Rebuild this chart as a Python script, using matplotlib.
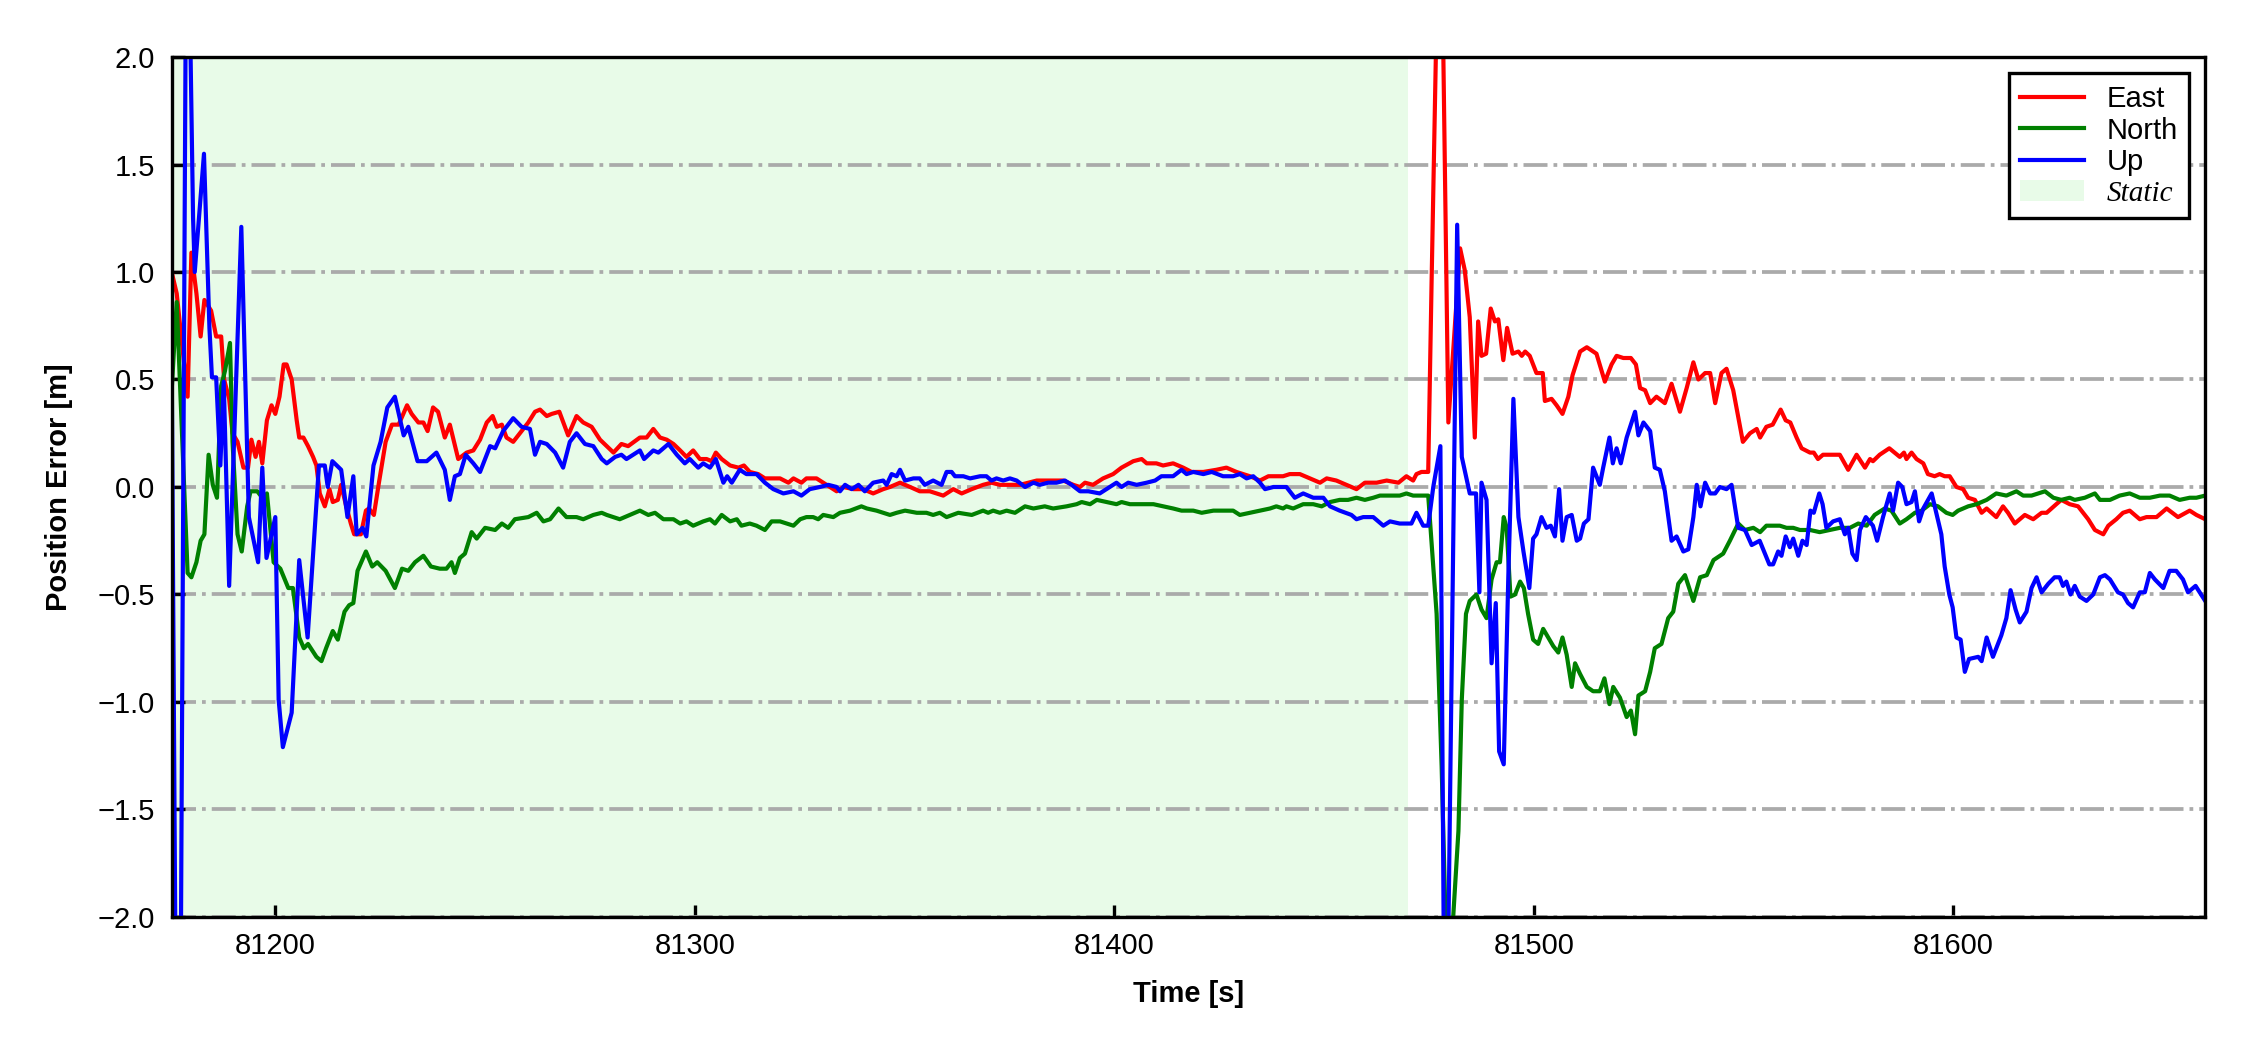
import numpy as np
import matplotlib
matplotlib.use("Agg")
import matplotlib.pyplot as plt

plt.rcParams['font.family'] = ['Liberation Sans', 'DejaVu Sans']
plt.rcParams['font.size'] = 7

# ---- data ----
t_east = [81175.3, 81176.5, 81179.1, 81180.0, 81181.2, 81182.2, 81183.1, 81184.7, 81185.9, 81187.1,
          81187.8, 81189.0, 81189.8, 81191.0, 81192.4, 81193.5, 81194.3, 81195.3, 81196.1, 81196.9,
          81198.0, 81199.1, 81200.0, 81201.0, 81202.0, 81202.7, 81203.9, 81205.1, 81205.7, 81206.7,
          81207.8, 81209.0, 81209.8, 81210.6, 81211.8, 81212.9, 81213.7, 81214.9, 81215.7, 81216.9,
          81218.0, 81218.8, 81220.4, 81221.6, 81222.3, 81223.5, 81224.7, 81226.3, 81227.8, 81229.4,
          81231.4, 81232.5, 81234.1, 81235.3, 81236.3, 81237.6, 81238.8, 81240.4, 81241.6, 81243.6,
          81245.6, 81247.2, 81248.8, 81250.4, 81251.8, 81252.8, 81254.0, 81255.1, 81256.7, 81258.7,
          81260.3, 81261.9, 81263.1, 81264.7, 81265.9, 81267.7, 81269.8, 81271.8, 81273.4, 81275.4,
          81277.4, 81279.0, 81280.6, 81282.5, 81284.1, 81286.9, 81288.5, 81290.1, 81291.7, 81293.3,
          81294.9, 81296.5, 81298.0, 81299.6, 81301.2, 81302.8, 81304.0, 81305.0, 81306.4, 81308.4,
          81310.4, 81311.7, 81313.1, 81315.1, 81316.7, 81318.7, 81320.3, 81322.3, 81323.5, 81325.4,
          81326.6, 81329.0, 81330.6, 81332.2, 81333.8, 81335.4, 81337.8, 81340.1, 81342.5, 81344.9,
          81346.5, 81348.9, 81351.3, 81353.6, 81356.0, 81359.2, 81361.6, 81363.6, 81366.0, 81368.7,
          81370.7, 81372.7, 81375.1, 81377.5, 81381.5, 81383.8, 81387.8, 81390.2, 81391.8, 81393.0,
          81394.9, 81397.3, 81399.7, 81401.7, 81404.5, 81406.5, 81407.7, 81410.0, 81411.6, 81414.0,
          81416.4, 81418.4, 81421.2, 81424.3, 81426.7, 81429.1, 81432.3, 81434.7, 81436.7, 81440.2,
          81441.8, 81444.2, 81446.6, 81449.0, 81450.6, 81452.9, 81455.3, 81457.7, 81459.7, 81462.5,
          81464.9, 81467.7, 81469.6, 81471.2, 81472.0, 81473.2, 81474.8, 81475.6, 81477.0, 81478.2,
          81479.6, 81482.4, 81483.5, 81484.7, 81485.9, 81486.7, 81487.5, 81488.6, 81489.7, 81490.7,
          81491.5, 81492.7, 81493.6, 81494.9, 81496.3, 81497.1, 81497.9, 81499.0, 81500.6, 81502.1,
          81502.6, 81504.2, 81505.4, 81506.8, 81508.2, 81509.2, 81511.0, 81512.6, 81514.9, 81516.9,
          81518.5, 81519.7, 81521.3, 81523.1, 81524.3, 81525.3, 81526.5, 81527.7, 81529.2, 81531.2,
          81532.8, 81534.8, 81536.4, 81538.0, 81539.2, 81540.8, 81542.0, 81543.2, 81544.7, 81545.9,
          81547.5, 81549.8, 81551.5, 81553.1, 81553.9, 81555.4, 81556.9, 81558.8, 81560.0, 81561.1,
          81562.6, 81563.8, 81565.8, 81566.7, 81567.7, 81568.9, 81570.9, 81572.9, 81574.9, 81576.9,
          81578.9, 81580.1, 81580.8, 81582.4, 81584.7, 81587.2, 81588.2, 81588.8, 81590.0, 81591.2,
          81592.8, 81593.9, 81595.5, 81596.7, 81597.9, 81599.1, 81600.7, 81602.3, 81603.5, 81605.1,
          81606.7, 81607.9, 81610.2, 81611.8, 81613.0, 81614.6, 81617.0, 81619.0, 81621.0, 81622.2,
          81624.5, 81625.7, 81627.7, 81629.7, 81632.1, 81633.7, 81635.7, 81636.9, 81638.8, 81640.4,
          81642.0, 81644.4, 81646.0, 81648.4, 81650.8, 81653.5, 81656.3, 81657.9, 81660.0]
east = [1.0, 0.9, 0.42, 1.09, 0.9, 0.7, 0.87, 0.82, 0.7, 0.7,
        0.5, 0.41, 0.25, 0.21, 0.09, 0.09, 0.22, 0.14, 0.21, 0.11,
        0.31, 0.38, 0.34, 0.42, 0.57, 0.57, 0.5, 0.31, 0.23, 0.23,
        0.19, 0.14, 0.1, -0.03, -0.09, -0.01, -0.07, -0.06, 0.01, -0.09,
        -0.17, -0.22, -0.22, -0.11, -0.1, -0.13, 0.02, 0.21, 0.29, 0.29,
        0.38, 0.34, 0.3, 0.3, 0.26, 0.37, 0.35, 0.23, 0.29, 0.13,
        0.16, 0.17, 0.22, 0.30, 0.33, 0.28, 0.29, 0.23, 0.21, 0.26,
        0.30, 0.35, 0.36, 0.33, 0.34, 0.35, 0.24, 0.33, 0.30, 0.28,
        0.22, 0.19, 0.16, 0.20, 0.19, 0.23, 0.23, 0.27, 0.23, 0.22,
        0.20, 0.17, 0.14, 0.17, 0.13, 0.13, 0.12, 0.16, 0.13, 0.10,
        0.09, 0.10, 0.07, 0.06, 0.04, 0.04, 0.04, 0.02, 0.04, 0.02,
        0.04, 0.04, 0.02, 0.0, -0.02, 0.0, -0.01, -0.01, -0.03, -0.01,
        0.0, 0.02, 0.0, -0.02, -0.02, -0.04, -0.01, -0.03, -0.01, 0.01,
        0.02, 0.01, 0.01, 0.01, 0.03, 0.03, 0.03, 0.01, 0.0, 0.02,
        0.01, 0.04, 0.06, 0.09, 0.12, 0.13, 0.11, 0.11, 0.10, 0.11,
        0.09, 0.07, 0.07, 0.08, 0.09, 0.07, 0.05, 0.03, 0.05, 0.05,
        0.06, 0.06, 0.04, 0.02, 0.04, 0.03, 0.01, -0.01, 0.02, 0.02,
        0.03, 0.02, 0.05, 0.03, 0.06, 0.07, 0.07, 0.95, 2.4, 2.3,
        0.3, 1.11, 1.01, 0.79, 0.23, 0.77, 0.61, 0.62, 0.83, 0.77,
        0.78, 0.59, 0.74, 0.62, 0.63, 0.61, 0.63, 0.61, 0.53, 0.53,
        0.4, 0.41, 0.38, 0.34, 0.42, 0.52, 0.63, 0.65, 0.62, 0.49,
        0.57, 0.61, 0.60, 0.60, 0.57, 0.46, 0.45, 0.39, 0.42, 0.39,
        0.48, 0.35, 0.46, 0.58, 0.5, 0.53, 0.53, 0.39, 0.53, 0.55,
        0.45, 0.21, 0.25, 0.27, 0.23, 0.28, 0.29, 0.36, 0.31, 0.30,
        0.23, 0.18, 0.16, 0.16, 0.13, 0.15, 0.15, 0.15, 0.08, 0.15,
        0.09, 0.13, 0.12, 0.15, 0.18, 0.14, 0.16, 0.13, 0.16, 0.13,
        0.11, 0.06, 0.05, 0.06, 0.05, 0.05, 0.0, -0.01, -0.05, -0.06,
        -0.12, -0.10, -0.14, -0.09, -0.12, -0.17, -0.13, -0.15, -0.12, -0.12,
        -0.08, -0.06, -0.08, -0.09, -0.15, -0.20, -0.22, -0.18, -0.15, -0.12,
        -0.11, -0.15, -0.14, -0.14, -0.10, -0.14, -0.11, -0.13, -0.15]

t_north = [81175.3, 81176.5, 81179.1, 81180.0, 81181.2, 81182.2, 81183.1, 81184.1, 81185.1, 81186.1,
           81187.1, 81188.0, 81189.2, 81189.8, 81191.0, 81192.0, 81193.3, 81194.1, 81195.7, 81197.3,
           81198.0, 81199.6, 81201.2, 81203.1, 81204.2, 81205.7, 81206.8, 81207.8, 81209.8, 81211.0,
           81212.1, 81213.7, 81214.9, 81216.5, 81217.6, 81218.6, 81219.6, 81221.6, 81223.1, 81224.3,
           81226.3, 81228.5, 81230.2, 81231.7, 81233.3, 81235.3, 81237.1, 81239.2, 81240.8, 81242.0,
           81242.8, 81244.0, 81245.2, 81246.8, 81248.0, 81250.0, 81252.4, 81254.0, 81255.5, 81257.1,
           81260.3, 81262.3, 81263.9, 81265.5, 81267.5, 81269.4, 81271.8, 81273.4, 81275.8, 81277.8,
           81279.0, 81282.1, 81284.5, 81286.9, 81288.9, 81290.5, 81292.5, 81294.9, 81296.5, 81298.0,
           81299.6, 81302.0, 81303.6, 81304.8, 81306.4, 81308.4, 81310.0, 81311.1, 81313.1, 81314.7,
           81316.7, 81318.3, 81320.3, 81321.9, 81323.5, 81325.1, 81326.6, 81328.2, 81329.4, 81330.6,
           81333.0, 81334.6, 81337.0, 81339.7, 81341.0, 81343.3, 81346.5, 81348.1, 81350.1, 81352.9,
           81355.2, 81356.8, 81358.4, 81360.0, 81362.8, 81366.0, 81368.7, 81369.9, 81371.1, 81372.7,
           81374.3, 81376.3, 81378.7, 81380.7, 81383.4, 81385.4, 81388.6, 81391.0, 81392.2, 81394.2,
           81395.8, 81398.1, 81400.5, 81401.7, 81403.7, 81406.9, 81409.3, 81411.6, 81414.0, 81416.0,
           81418.8, 81420.8, 81423.6, 81425.9, 81428.3, 81429.9, 81432.3, 81434.7, 81437.1, 81438.6,
           81440.2, 81441.0, 81442.6, 81445.0, 81447.4, 81449.4, 81451.4, 81453.7, 81455.7, 81457.7,
           81459.7, 81461.7, 81463.3, 81465.7, 81468.0, 81469.6, 81471.2, 81474.8, 81476.8, 81478.0,
           81479.3, 81480.6, 81482.0, 81482.8, 81483.8, 81484.7, 81486.3, 81487.5, 81488.7, 81489.9,
           81491.1, 81491.9, 81492.8, 81493.5, 81494.4, 81495.5, 81496.7, 81497.6, 81498.6, 81499.8,
           81501.0, 81502.2, 81503.4, 81504.6, 81505.8, 81506.8, 81507.8, 81509.0, 81509.8, 81511.0,
           81512.6, 81514.1, 81515.7, 81516.8, 81518.0, 81518.9, 81520.5, 81522.1, 81523.1, 81524.1,
           81524.9, 81526.5, 81527.7, 81528.8, 81530.4, 81532.0, 81533.2, 81534.4, 81536.0, 81538.0,
           81539.6, 81541.2, 81542.8, 81545.1, 81546.7, 81548.7, 81550.3, 81552.3, 81553.9, 81555.4,
           81557.0, 81558.6, 81560.2, 81561.8, 81563.4, 81565.8, 81568.1, 81570.5, 81572.9, 81575.3,
           81577.3, 81579.3, 81581.2, 81583.6, 81585.2, 81587.2, 81588.8, 81590.8, 81592.4, 81594.4,
           81596.3, 81598.3, 81599.8, 81601.1, 81603.5, 81605.5, 81607.9, 81610.2, 81612.6, 81615.0,
           81616.6, 81618.6, 81620.2, 81621.8, 81623.8, 81625.7, 81627.7, 81628.9, 81631.3, 81633.7,
           81634.9, 81637.3, 81639.6, 81642.0, 81644.4, 81646.8, 81649.2, 81651.5, 81653.9, 81656.3,
           81657.9, 81660.0]
north = [0.45, 0.86, -0.4, -0.42, -0.35, -0.25, -0.22, 0.15, 0.01, -0.05,
         0.47, 0.54, 0.67, 0.21, -0.22, -0.3, -0.09, -0.02, -0.02, -0.06,
         -0.03, -0.35, -0.38, -0.47, -0.47, -0.7, -0.75, -0.73, -0.79, -0.81,
         -0.75, -0.67, -0.71, -0.58, -0.55, -0.54, -0.39, -0.3, -0.37, -0.35,
         -0.39, -0.47, -0.38, -0.39, -0.35, -0.32, -0.37, -0.38, -0.38, -0.35,
         -0.40, -0.33, -0.31, -0.21, -0.24, -0.19, -0.20, -0.17, -0.19, -0.15,
         -0.14, -0.12, -0.16, -0.15, -0.10, -0.14, -0.14, -0.15, -0.13, -0.12,
         -0.13, -0.15, -0.13, -0.11, -0.13, -0.12, -0.15, -0.15, -0.17, -0.16,
         -0.18, -0.16, -0.15, -0.17, -0.13, -0.16, -0.15, -0.18, -0.17, -0.18,
         -0.20, -0.16, -0.16, -0.17, -0.18, -0.15, -0.14, -0.14, -0.15, -0.13,
         -0.14, -0.12, -0.11, -0.09, -0.10, -0.11, -0.13, -0.12, -0.11, -0.12,
         -0.12, -0.13, -0.12, -0.14, -0.12, -0.13, -0.11, -0.12, -0.11, -0.12,
         -0.11, -0.12, -0.09, -0.10, -0.09, -0.10, -0.09, -0.08, -0.07, -0.08,
         -0.06, -0.07, -0.08, -0.07, -0.08, -0.08, -0.08, -0.09, -0.10, -0.11,
         -0.11, -0.12, -0.11, -0.11, -0.11, -0.13, -0.12, -0.11, -0.10, -0.09,
         -0.10, -0.09, -0.10, -0.08, -0.08, -0.09, -0.07, -0.06, -0.06, -0.05,
         -0.06, -0.05, -0.04, -0.04, -0.04, -0.03, -0.04, -0.04, -0.59, -1.3,
         -2.3, -2.05, -1.6, -0.99, -0.59, -0.53, -0.5, -0.57, -0.61, -0.43,
         -0.35, -0.35, -0.14, -0.19, -0.51, -0.5, -0.44, -0.47, -0.59, -0.71,
         -0.73, -0.66, -0.7, -0.74, -0.77, -0.7, -0.78, -0.93, -0.82, -0.87,
         -0.93, -0.95, -0.95, -0.89, -1.01, -0.93, -0.98, -1.07, -1.04, -1.15,
         -0.97, -0.95, -0.86, -0.75, -0.73, -0.61, -0.58, -0.45, -0.41, -0.53,
         -0.42, -0.41, -0.34, -0.31, -0.25, -0.17, -0.2, -0.19, -0.21, -0.18,
         -0.18, -0.18, -0.19, -0.19, -0.20, -0.20, -0.21, -0.20, -0.19, -0.19,
         -0.17, -0.18, -0.13, -0.10, -0.11, -0.17, -0.15, -0.12, -0.11, -0.08,
         -0.09, -0.12, -0.13, -0.11, -0.09, -0.08, -0.06, -0.03, -0.04, -0.02,
         -0.04, -0.04, -0.03, -0.02, -0.05, -0.06, -0.05, -0.06, -0.05, -0.03,
         -0.06, -0.06, -0.04, -0.03, -0.05, -0.05, -0.04, -0.04, -0.06, -0.05,
         -0.05, -0.04]

t_up = [81175.3, 81176.3, 81177.4, 81178.7, 81179.5, 81180.4, 81180.8, 81183.0, 81184.3, 81184.9,
        81185.9, 81186.9, 81187.7, 81189.0, 81191.9, 81193.7, 81195.9, 81196.9, 81197.9, 81200.0,
        81200.8, 81201.8, 81203.9, 81205.7, 81207.7, 81210.4, 81211.8, 81212.5, 81213.6, 81215.7,
        81217.2, 81218.6, 81219.4, 81220.8, 81221.7, 81223.4, 81225.1, 81226.7, 81228.5, 81230.6,
        81231.7, 81233.9, 81236.1, 81238.4, 81240.4, 81241.6, 81242.8, 81244.0, 81245.4, 81247.2,
        81248.8, 81251.2, 81252.4, 81254.3, 81256.7, 81258.7, 81260.7, 81261.9, 81263.1, 81264.7,
        81266.7, 81268.6, 81270.2, 81271.8, 81273.8, 81275.8, 81277.8, 81279.0, 81281.0, 81282.5,
        81283.7, 81286.9, 81287.9, 81290.1, 81291.3, 81293.7, 81295.7, 81297.6, 81298.8, 81300.8,
        81302.0, 81303.6, 81305.0, 81306.8, 81307.7, 81308.8, 81310.7, 81312.3, 81314.7, 81316.7,
        81318.7, 81321.1, 81323.5, 81325.4, 81327.4, 81329.8, 81331.8, 81333.8, 81334.6, 81335.8,
        81337.4, 81339.0, 81340.5, 81342.5, 81344.9, 81345.7, 81346.9, 81348.1, 81348.9, 81350.1,
        81352.1, 81353.6, 81354.8, 81356.8, 81358.8, 81360.0, 81361.2, 81362.0, 81364.0, 81365.6,
        81368.0, 81369.5, 81370.7, 81371.9, 81373.5, 81375.1, 81376.7, 81378.7, 81380.7, 81382.2,
        81384.2, 81386.2, 81388.2, 81389.8, 81391.8, 81393.8, 81396.5, 81398.9, 81400.5, 81401.7,
        81403.3, 81405.3, 81407.7, 81409.7, 81411.2, 81414.0, 81416.0, 81417.2, 81418.8, 81421.2,
        81423.2, 81425.9, 81428.3, 81429.9, 81431.5, 81433.1, 81434.7, 81435.9, 81437.9, 81441.0,
        81443.0, 81445.0, 81447.4, 81449.8, 81451.4, 81453.7, 81456.5, 81457.7, 81459.3, 81461.7,
        81464.1, 81465.7, 81468.0, 81470.8, 81472.0, 81473.6, 81474.8, 81476.0, 81477.7, 81478.6,
        81479.4, 81481.7, 81482.8, 81484.7, 81486.2, 81487.0, 81487.5, 81488.7, 81489.9, 81490.9,
        81491.7, 81492.8, 81493.9, 81495.1, 81496.3, 81497.5, 81498.9, 81499.8, 81500.6, 81501.8,
        81503.0, 81504.0, 81505.0, 81506.0, 81506.8, 81507.8, 81509.0, 81510.2, 81511.0, 81511.9,
        81513.0, 81514.1, 81515.7, 81516.5, 81518.0, 81518.8, 81519.7, 81520.7, 81522.1, 81523.1,
        81524.1, 81524.9, 81526.1, 81527.7, 81528.8, 81530.0, 81531.2, 81532.8, 81534.0, 81535.6,
        81536.8, 81538.0, 81538.8, 81539.7, 81540.8, 81542.0, 81543.2, 81544.3, 81545.9, 81547.1,
        81548.7, 81550.3, 81551.9, 81553.8, 81556.1, 81557.0, 81558.2, 81559.0, 81560.0, 81561.0,
        81561.8, 81563.0, 81564.0, 81565.0, 81565.9, 81566.7, 81568.0, 81568.8, 81569.7, 81571.3,
        81572.9, 81574.1, 81574.9, 81575.9, 81576.9, 81577.7, 81579.1, 81580.8, 81581.8, 81583.2,
        81584.8, 81585.6, 81586.8, 81587.8, 81588.8, 81590.0, 81590.8, 81591.8, 81592.8, 81594.8,
        81595.9, 81597.1, 81597.9, 81599.0, 81599.8, 81600.7, 81601.7, 81602.7, 81603.7, 81605.9,
        81606.7, 81607.9, 81609.4, 81611.4, 81612.6, 81613.6, 81614.8, 81615.8, 81617.4, 81618.6,
        81619.8, 81621.0, 81622.6, 81624.1, 81625.3, 81626.1, 81626.9, 81627.9, 81628.9, 81630.1,
        81631.7, 81633.3, 81634.9, 81636.1, 81637.3, 81639.2, 81640.4, 81641.6, 81642.8, 81644.4,
        81645.6, 81646.8, 81648.0, 81650.0, 81651.5, 81653.1, 81654.7, 81655.9, 81657.7, 81660.0]
up = [0.6, -2.5, -2.5, 2.4, 2.4, 1.25, 1.0, 1.55, 0.74, 0.51,
      0.51, 0.1, 0.49, -0.46, 1.21, -0.14, -0.35, 0.09, -0.33, -0.14,
      -0.99, -1.21, -1.05, -0.34, -0.7, 0.1, 0.1, 0.0, 0.12, 0.08,
      -0.14, 0.05, -0.22, -0.19, -0.23, 0.1, 0.21, 0.37, 0.42, 0.24,
      0.28, 0.12, 0.12, 0.16, 0.08, -0.06, 0.05, 0.06, 0.15, 0.11,
      0.07, 0.19, 0.18, 0.26, 0.32, 0.28, 0.27, 0.15, 0.21, 0.20,
      0.16, 0.09, 0.21, 0.25, 0.20, 0.19, 0.13, 0.11, 0.14, 0.15,
      0.13, 0.17, 0.13, 0.17, 0.16, 0.20, 0.15, 0.11, 0.13, 0.09,
      0.11, 0.09, 0.13, 0.02, 0.05, 0.02, 0.08, 0.06, 0.06, 0.02,
      -0.01, -0.03, -0.02, -0.04, -0.01, 0.0, 0.01, 0.0, -0.02, 0.01,
      -0.01, 0.01, -0.02, 0.02, 0.03, 0.01, 0.06, 0.05, 0.08, 0.03,
      0.04, 0.04, 0.01, 0.03, 0.01, 0.07, 0.07, 0.05, 0.05, 0.04,
      0.05, 0.05, 0.03, 0.04, 0.03, 0.04, 0.03, 0.0, 0.02, 0.01,
      0.02, 0.02, 0.03, 0.01, -0.02, -0.02, -0.03, 0.0, 0.02, 0.0,
      0.02, 0.01, 0.02, 0.03, 0.05, 0.05, 0.08, 0.06, 0.07, 0.06,
      0.07, 0.05, 0.05, 0.06, 0.04, 0.05, 0.02, -0.01, 0.0, 0.0,
      -0.05, -0.03, -0.05, -0.05, -0.09, -0.11, -0.13, -0.15, -0.14, -0.14,
      -0.18, -0.16, -0.17, -0.17, -0.12, -0.18, -0.18, 0.0, 0.19, -2.4,
      -2.4, 1.22, 0.14, -0.03, -0.03, -0.49, 0.02, -0.06, -0.82, -0.54,
      -1.23, -1.29, -0.41, 0.41, -0.14, -0.3, -0.47, -0.24, -0.22, -0.14,
      -0.19, -0.18, -0.23, -0.01, -0.25, -0.14, -0.13, -0.25, -0.24, -0.17,
      -0.15, 0.09, 0.01, 0.09, 0.23, 0.11, 0.18, 0.11, 0.23, 0.29,
      0.35, 0.24, 0.3, 0.26, 0.09, 0.08, -0.02, -0.25, -0.23, -0.3,
      -0.29, -0.14, 0.01, -0.09, 0.02, -0.03, -0.03, 0.0, -0.01, 0.01,
      -0.19, -0.2, -0.27, -0.25, -0.36, -0.36, -0.30, -0.32, -0.23, -0.28,
      -0.24, -0.32, -0.25, -0.27, -0.11, -0.12, -0.03, -0.08, -0.19, -0.16,
      -0.15, -0.22, -0.19, -0.31, -0.34, -0.2, -0.14, -0.18, -0.25, -0.14,
      -0.03, -0.11, 0.02, 0.0, -0.08, -0.07, -0.02, -0.16, -0.10, -0.03,
      -0.12, -0.22, -0.37, -0.50, -0.56, -0.70, -0.71, -0.86, -0.80, -0.79,
      -0.81, -0.70, -0.79, -0.69, -0.61, -0.48, -0.57, -0.63, -0.58, -0.47,
      -0.42, -0.49, -0.45, -0.42, -0.42, -0.46, -0.44, -0.50, -0.46, -0.51,
      -0.53, -0.50, -0.42, -0.41, -0.43, -0.49, -0.50, -0.54, -0.56, -0.49,
      -0.49, -0.40, -0.43, -0.47, -0.39, -0.39, -0.43, -0.49, -0.46, -0.53]

static_span = [81175.3, 81470.0]
x_range = [81175.3, 81660.0]
y_range = [-2.0, 2.0]

fig = plt.figure(figsize=(7.5, 3.5), dpi=300)
ax = fig.add_axes([0.0763, 0.1267, 0.9038, 0.819])

ax.axvspan(static_span[0], static_span[1], color='lightgreen', alpha=0.2, lw=0, label='Static')
ax.plot(t_east, east, color='red', lw=1.0, label='East')
ax.plot(t_north, north, color='green', lw=1.0, label='North')
ax.plot(t_up, up, color='blue', lw=1.0, label='Up')

ax.set_xlim(x_range)
ax.set_ylim(y_range)
ax.set_yticks(np.arange(-2.0, 2.01, 0.5))
ax.set_xticks([81200, 81300, 81400, 81500, 81600])
ax.yaxis.grid(True, linestyle='-.', color='#aaaaaa', lw=0.9)
ax.tick_params(direction='in', length=3, width=0.8, labelsize=7)
ax.tick_params(axis='y', pad=4)

ax.set_xlabel('Time [s]', fontweight='bold', fontsize=7, labelpad=5)
ax.set_ylabel('Position Error [m]', fontweight='bold', fontsize=7, labelpad=6)

# legend: lines first, then the shaded span
handles, labels = ax.get_legend_handles_labels()
order = [1, 2, 3, 0]
leg = ax.legend([handles[i] for i in order], [labels[i] for i in order],
                loc='upper right', fancybox=False, framealpha=1, edgecolor='black',
                fontsize=7, labelspacing=0.13, borderpad=0.4, borderaxespad=0.55,
                handlelength=2.2, handletextpad=0.75)
leg.get_frame().set_linewidth(0.8)
st = leg.get_texts()[3]
st.set_fontfamily(['Liberation Serif', 'DejaVu Serif'])
st.set_fontstyle('italic')

fig.savefig('out.png', dpi=300)
